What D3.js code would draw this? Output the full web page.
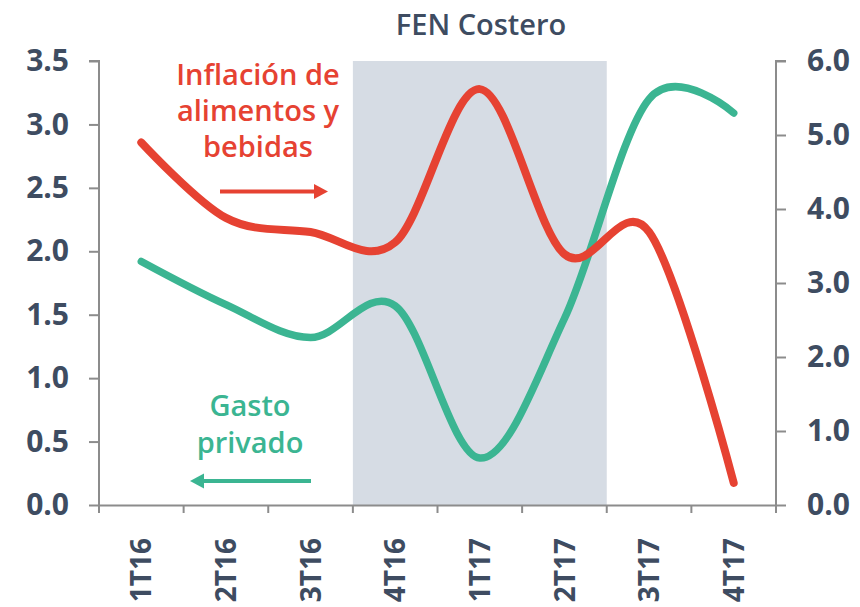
<!DOCTYPE html>
<html>
<head>
<meta charset="utf-8">
<script src="https://cdn.jsdelivr.net/npm/d3@7"></script>
<style>
  body { margin: 0; background: #fff; }
  text { font-family: "Open Sans", "Noto Sans", sans-serif; }
</style>
</head>
<body>
<div id="chart"></div>
<script>
// data
const quarters = ["1T16", "2T16", "3T16", "4T16", "1T17", "2T17", "3T17", "4T17"];
const inflacion = [4.90, 3.88, 3.69, 3.55, 5.62, 3.39, 3.69, 0.30];   // right axis
const gasto = [1.92, 1.58, 1.32, 1.57, 0.37, 1.47, 3.20, 3.09];       // left axis
const leftTicks = [0, 0.5, 1, 1.5, 2, 2.5, 3, 3.5];
const rightTicks = [0, 1, 2, 3, 4, 5, 6];
const shaded = ["4T16", "2T17"];

const W = 860, H = 607;
const margin = { top: 61, right: 84, bottom: 102, left: 99 };
const width = W - margin.left - margin.right;
const height = H - margin.top - margin.bottom;

const red = "#e64232", green = "#3bb592", ink = "#3e4c61", axisGray = "#8c8c8c";

let svg = d3.select("#chart").append("svg")
    .attr("width", W)
    .attr("height", H);

let graph = svg.append("g")
    .attr("transform", "translate(" + margin.left + "," + margin.top + ")");

let x = d3.scaleBand().domain(quarters).range([0, width]);
let yL = d3.scaleLinear().domain([0, 3.5]).range([height, 0]);
let yR = d3.scaleLinear().domain([0, 6]).range([height, 0]);

// shaded period
graph.append("rect")
    .attr("x", x(shaded[0]))
    .attr("y", yL(3.5))
    .attr("width", x(shaded[1]) + x.bandwidth() - x(shaded[0]))
    .attr("height", yL(0) - yL(3.5))
    .attr("fill", "#d6dce4");

// title
svg.append("text")
    .attr("x", 481)
    .attr("y", 35)
    .attr("text-anchor", "middle")
    .attr("font-size", 29)
    .attr("font-weight", 600)
    .attr("fill", ink)
    .text("FEN Costero");

// axes
let left = graph.append("g")
    .call(d3.axisLeft(yL).tickValues(leftTicks).tickFormat(d3.format(".1f")).tickSize(10).tickPadding(20));
let right = graph.append("g")
    .attr("transform", "translate(" + width + ",0)")
    .call(d3.axisRight(yR).tickValues(rightTicks).tickFormat(d3.format(".1f")).tickSize(10).tickPadding(21));
let bottom = graph.append("g")
    .attr("transform", "translate(0," + height + ")")
    .call(d3.axisBottom(x).tickSize(0).tickPadding(0));

// edge ticks between quarters
bottom.selectAll(".edge")
    .data(quarters.concat(["end"]))
    .enter().append("line")
    .attr("class", "edge")
    .attr("x1", (d, i) => i * x.step())
    .attr("x2", (d, i) => i * x.step())
    .attr("y1", 0)
    .attr("y2", 8);

[left, right, bottom].forEach(g => {
    g.selectAll("path.domain").attr("stroke", axisGray).attr("stroke-width", 2);
    g.selectAll("line").attr("stroke", axisGray).attr("stroke-width", 2);
    g.selectAll("text")
        .attr("fill", ink)
        .attr("font-size", 30)
        .attr("font-weight", 700)
        .style("font-family", "'Open Sans', sans-serif");
});
left.select("path.domain").attr("d", "M0," + (height + 7) + "V0H-10");
right.select("path.domain").attr("d", "M0," + (height + 7) + "V0H10");

bottom.selectAll(".tick text")
    .attr("transform", "rotate(-90)")
    .attr("text-anchor", "end")
    .attr("font-size", 28)
    .attr("x", -33)
    .attr("y", 0)
    .attr("dy", "0.36em");

// lines
let lineL = d3.line()
    .x((d, i) => x(quarters[i]) + x.bandwidth() / 2)
    .y(d => yL(d))
    .curve(d3.curveCardinal.tension(0));
let lineR = d3.line()
    .x((d, i) => x(quarters[i]) + x.bandwidth() / 2)
    .y(d => yR(d))
    .curve(d3.curveCardinal.tension(0));

graph.append("path")
    .datum(gasto)
    .attr("d", lineL)
    .attr("fill", "none")
    .attr("stroke", green)
    .attr("stroke-width", 7.5)
    .attr("stroke-linecap", "round");

graph.append("path")
    .datum(inflacion)
    .attr("d", lineR)
    .attr("fill", "none")
    .attr("stroke", red)
    .attr("stroke-width", 8)
    .attr("stroke-linecap", "round");

// annotations
let redLabel = svg.append("text")
    .attr("text-anchor", "middle")
    .attr("font-size", 29)
    .attr("font-weight", 600)
    .attr("fill", red);
["Inflación de", "alimentos y", "bebidas"].forEach((t, i) => {
    redLabel.append("tspan").attr("x", 258).attr("y", 85 + i * 36).text(t);
});

let greenLabel = svg.append("text")
    .attr("text-anchor", "middle")
    .attr("font-size", 29)
    .attr("font-weight", 600)
    .attr("fill", green);
["Gasto", "privado"].forEach((t, i) => {
    greenLabel.append("tspan").attr("x", 250).attr("y", 416 + i * 37).text(t);
});

// arrows
function arrow(x1, x2, y, color) {
    let dir = x2 > x1 ? 1 : -1;
    svg.append("line")
        .attr("x1", x1).attr("x2", x2 - dir * 10)
        .attr("y1", y).attr("y2", y)
        .attr("stroke", color)
        .attr("stroke-width", 4);
    svg.append("path")
        .attr("d", "M" + x2 + "," + y + "L" + (x2 - dir * 14) + "," + (y - 7.5) + "L" + (x2 - dir * 14) + "," + (y + 7.5) + "Z")
        .attr("fill", color);
}
arrow(220, 328, 191.5, red);
arrow(311, 190, 481, green);
</script>
</body>
</html>
